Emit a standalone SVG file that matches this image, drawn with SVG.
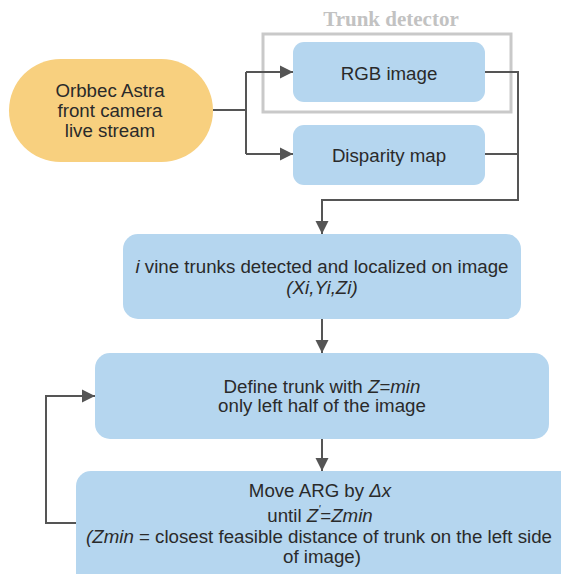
<svg xmlns="http://www.w3.org/2000/svg" width="561" height="574" viewBox="0 0 561 574">
  <style>
    .bg { fill: #ffffff; }
    .box { fill: #b5d6ef; }
    .src { fill: #f8d07f; }
    .frame { fill: none; stroke: #c9c9c9; stroke-width: 3; }
    .title { font-family: "Liberation Serif", "Times New Roman", serif; font-weight: bold; font-size: 21px; fill: #c2c2c2; text-anchor: middle; }
    .lbl { font-family: "Liberation Sans", Arial, sans-serif; font-size: 18.7px; fill: #2a2a2a; text-anchor: middle; }
    .it { font-style: italic; }
    .wire { fill: none; stroke: #555555; stroke-width: 2; }
  </style>
  <defs>
    <marker id="arrow" markerUnits="userSpaceOnUse" markerWidth="14" markerHeight="14" refX="13" refY="7" orient="auto">
      <path d="M0,0.5 L13,7 L0,13.5 Z" fill="#555555"/>
    </marker>
  </defs>

  <rect class="bg" x="0" y="0" width="561" height="574"/>

  <!-- Trunk detector frame around the RGB branch -->
  <g id="trunk-detector">
    <rect class="frame" x="263" y="34" width="248" height="78"/>
    <text class="title" x="391" y="26">Trunk detector</text>
  </g>

  <g id="camera">
    <rect class="src" x="9" y="59" width="204" height="103" rx="51.5" ry="51.5"/>
    <text class="lbl" x="110" y="97">Orbbec Astra</text>
    <text class="lbl" x="110" y="117">front camera</text>
    <text class="lbl" x="110" y="137">live stream</text>
  </g>

  <g id="rgb-image">
    <rect class="box" x="293" y="42" width="192" height="60" rx="11"/>
    <text class="lbl" x="389" y="80">RGB image</text>
  </g>

  <g id="disparity-map">
    <rect class="box" x="293" y="125" width="192" height="60" rx="11"/>
    <text class="lbl" x="389" y="162">Disparity map</text>
  </g>

  <g id="detection">
    <rect class="box" x="123" y="234" width="398" height="85" rx="15"/>
    <text class="lbl" x="322" y="273"><tspan class="it">i</tspan> vine trunks detected and localized on image</text>
    <text class="lbl it" x="322" y="294">(Xi,Yi,Zi)</text>
  </g>

  <g id="define-trunk">
    <rect class="box" x="95" y="353" width="454" height="86" rx="15"/>
    <text class="lbl" x="322" y="393">Define trunk with <tspan class="it">Z</tspan>=<tspan class="it">min</tspan></text>
    <text class="lbl" x="322" y="412">only left half of the image</text>
  </g>

  <g id="move-arg">
    <rect class="box" x="76" y="471" width="500" height="120" rx="15"/>
    <text class="lbl" x="320" y="497">Move ARG by <tspan class="it">Δx</tspan></text>
    <text class="lbl" x="320" y="522">until <tspan class="it">Z</tspan><tspan class="it" font-size="11" dy="-9">'</tspan><tspan dy="9">=</tspan><tspan class="it">Zmin</tspan></text>
    <text class="lbl" x="319" y="543"><tspan class="it">(Zmin</tspan> = closest feasible distance of trunk on the left side</text>
    <text class="lbl" x="322" y="563">of image)</text>
  </g>

  <g id="connectors">
    <path class="wire" d="M213,110 H246"/>
    <path class="wire" d="M246,72 V154"/>
    <path class="wire" d="M246,72 H293" marker-end="url(#arrow)"/>
    <path class="wire" d="M246,154 H293" marker-end="url(#arrow)"/>
    <path class="wire" d="M485,154 H518"/>
    <path class="wire" d="M485,72 H518 V200 H322 V234" marker-end="url(#arrow)"/>
    <path class="wire" d="M322,319 V353" marker-end="url(#arrow)"/>
    <path class="wire" d="M322,439 V471" marker-end="url(#arrow)"/>
    <path class="wire" d="M76,523 H46 V396 H95" marker-end="url(#arrow)"/>
  </g>
</svg>
